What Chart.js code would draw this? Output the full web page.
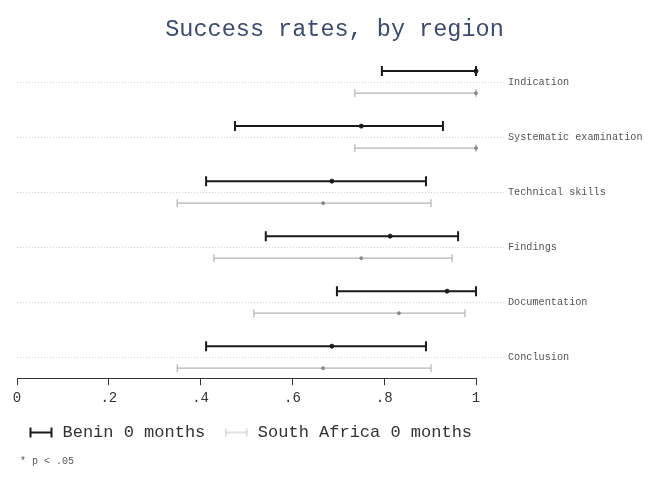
<!DOCTYPE html>
<html>
<head>
<meta charset="utf-8">
<script src="https://cdn.jsdelivr.net/npm/chart.js@4/dist/chart.umd.min.js"></script>
<style>
  html, body { margin: 0; padding: 0; background: #fff; }
  #wrap { width: 669px; height: 487px; }
</style>
</head>
<body>
<div id="wrap"><canvas id="chart"></canvas></div>
<script>
// Success rates per skill area, two groups, point estimate + CI
const categories = ["Indication", "Systematic examination", "Technical skills", "Findings", "Documentation", "Conclusion"]

const beninMean = [1.0, 0.75, 0.686, 0.813, 0.937, 0.686]
const beninLow  = [0.795, 0.475, 0.412, 0.542, 0.697, 0.412]
const beninHigh = [1.0, 0.928, 0.891, 0.961, 1.0, 0.891]

const saMean = [1.0, 1.0, 0.667, 0.75, 0.832, 0.667]
const saLow  = [0.736, 0.736, 0.349, 0.429, 0.516, 0.349]
const saHigh = [1.0, 1.0, 0.902, 0.948, 0.976, 0.902]

const xTicks = [0, 0.2, 0.4, 0.6, 0.8, 1]
const footnote = "* p < .05"

const MONO = "'Liberation Mono', 'Courier New', monospace"
const BENIN = "#1a1a1a"
const SA = "#b4b4b4"
const SA_DOT = "#8a8a8a"
const ROW_SHIFT = 0.2

// little |--| glyphs for the legend
function legendGlyph(color, width, capH) {
  const c = document.createElement("canvas")
  c.width = 34
  c.height = 14
  const g = c.getContext("2d")
  g.strokeStyle = color
  g.lineWidth = width
  g.beginPath()
  g.moveTo(10, 7); g.lineTo(32, 7)
  g.moveTo(10.5, 7 - capH / 2); g.lineTo(10.5, 7 + capH / 2)
  g.moveTo(31.5, 7 - capH / 2); g.lineTo(31.5, 7 + capH / 2)
  g.stroke()
  return c
}

const series = [
  { low: beninLow, high: beninHigh, shift: -ROW_SHIFT, color: BENIN, width: 2, cap: 5 },
  { low: saLow, high: saHigh, shift: ROW_SHIFT, color: SA, width: 1.2, cap: 4 },
]

const errorBars = {
  id: "errorBars",
  beforeDatasetsDraw(chart) {
    const { ctx, scales: { x, y } } = chart
    ctx.save()
    series.forEach(s => {
      ctx.strokeStyle = s.color
      ctx.lineWidth = s.width
      categories.forEach((_, i) => {
        const py = y.getPixelForValue(i + s.shift)
        const x0 = x.getPixelForValue(s.low[i])
        const x1 = x.getPixelForValue(s.high[i])
        ctx.beginPath()
        ctx.moveTo(x0, py); ctx.lineTo(x1, py)
        ctx.moveTo(x0, py - s.cap); ctx.lineTo(x0, py + s.cap)
        ctx.moveTo(x1, py - s.cap); ctx.lineTo(x1, py + s.cap)
        ctx.stroke()
      })
    })
    ctx.restore()
  },
  afterDraw(chart) {
    const { ctx, chartArea, legend } = chart
    ctx.save()
    ctx.font = `10px ${MONO}`
    ctx.fillStyle = "#555"
    ctx.textBaseline = "middle"
    ctx.fillText(footnote, chartArea.left + 3, legend.bottom + 10)
    ctx.restore()
  },
}

const glyphs = [legendGlyph(BENIN, 2, 10), legendGlyph("#c4c4c4", 1, 8)]

new Chart(document.getElementById("chart"), {
  type: "scatter",
  data: {
    datasets: [
      {
        label: "Benin 0 months",
        data: beninMean.map((v, i) => ({ x: v, y: i - ROW_SHIFT })),
        backgroundColor: BENIN,
        borderColor: BENIN,
        pointRadius: 2,
        clip: false,
      },
      {
        label: "South Africa 0 months",
        data: saMean.map((v, i) => ({ x: v, y: i + ROW_SHIFT })),
        backgroundColor: SA_DOT,
        borderColor: SA_DOT,
        pointRadius: 1.5,
        clip: false,
      },
    ],
  },
  plugins: [errorBars],
  options: {
    responsive: true,
    maintainAspectRatio: false,
    animation: false,
    layout: { padding: { left: 10, right: 10, top: 0, bottom: 36 } },
    plugins: {
      title: {
        display: true,
        text: "Success rates, by region",
        color: "#3a4a70",
        font: { family: MONO, size: 23.5, weight: "normal" },
        padding: { top: 16, bottom: 6 },
      },
      legend: {
        display: true,
        position: "bottom",
        align: "start",
        labels: {
          color: "#333",
          font: { family: MONO, size: 17 },
          usePointStyle: true,
          pointStyleWidth: 34,
          padding: 10,
          generateLabels: (chart) =>
            Chart.defaults.plugins.legend.labels.generateLabels(chart).map((item, i) => ({
              ...item,
              pointStyle: glyphs[i],
            })),
        },
      },
      tooltip: { enabled: false },
    },
    scales: {
      x: {
        type: "linear",
        position: "bottom",
        min: 0,
        max: 1,
        afterBuildTicks: (s) => { s.ticks = xTicks.map(v => ({ value: v })) },
        afterFit: (s) => { s.height += 2 },
        grid: { drawOnChartArea: false, drawTicks: true, tickLength: 7, color: "#333", tickWidth: 1 },
        border: { display: true, color: "#333", width: 1 },
        ticks: {
          color: "#333",
          padding: 5,
          font: { family: MONO, size: 14 },
          callback: (v) => (v === 0 || v === 1 ? String(v) : Number(v).toFixed(1).replace("0.", ".")),
        },
      },
      y: {
        type: "linear",
        position: "right",
        reverse: true,
        min: -0.58,
        max: 5.382,
        afterBuildTicks: (s) => { s.ticks = categories.map((_, i) => ({ value: i })) },
        afterFit: (s) => { s.width = 183 },
        grid: {
          color: "#cfcfcf",
          lineWidth: 1,
          drawTicks: true,
          tickLength: 28,
          tickColor: "#cfcfcf",
          tickBorderDash: [1, 2],
        },
        border: { display: false, dash: [1, 2] },
        ticks: {
          color: "#555",
          padding: 4,
          crossAlign: "near",
          font: { family: MONO, size: 10.2 },
          callback: (v) => categories[v] ?? "",
        },
      },
      pad: {
        type: "linear",
        position: "left",
        display: true,
        grid: { display: false },
        border: { display: false },
        ticks: { display: false },
        afterFit: (s) => { s.width = 7 },
      },
    },
  },
})
</script>
</body>
</html>
